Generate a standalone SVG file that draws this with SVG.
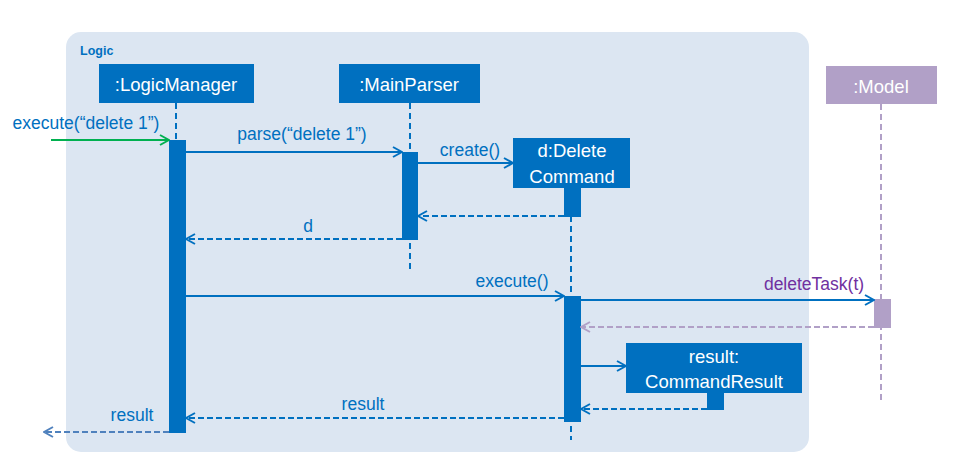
<svg xmlns="http://www.w3.org/2000/svg" width="953" height="476" viewBox="0 0 953 476">
<style>
.box{fill:#0070C0}
.boxt{fill:#fff;font-family:"Liberation Sans",Arial,sans-serif;font-size:18.5px;text-anchor:middle}
.lbl{fill:#0070C0;font-family:"Liberation Sans",Arial,sans-serif;font-size:17.5px;text-anchor:middle}
.life{stroke:#0070C0;stroke-width:2;stroke-dasharray:6,4;fill:none}
.msg{stroke:#0070C0;stroke-width:2;fill:none;marker-end:url(#ab)}
.ret{stroke:#0070C0;stroke-width:2;stroke-dasharray:6,3;fill:none;marker-end:url(#ab)}
</style>
<defs>
<marker id="ab" markerUnits="userSpaceOnUse" viewBox="0 0 12 12" refX="11" refY="6" markerWidth="12" markerHeight="12" orient="auto"><path d="M2,1 L11,6 L2,11" fill="none" stroke="#0070C0" stroke-width="2"/></marker>
<marker id="ag" markerUnits="userSpaceOnUse" viewBox="0 0 12 12" refX="11" refY="6" markerWidth="12" markerHeight="12" orient="auto"><path d="M2,1 L11,6 L2,11" fill="none" stroke="#00B050" stroke-width="2"/></marker>
<marker id="ap" markerUnits="userSpaceOnUse" viewBox="0 0 12 12" refX="11" refY="6" markerWidth="12" markerHeight="12" orient="auto"><path d="M2,1 L11,6 L2,11" fill="none" stroke="#B1A0C7" stroke-width="2"/></marker>
<marker id="al" markerUnits="userSpaceOnUse" viewBox="0 0 12 12" refX="11" refY="6" markerWidth="12" markerHeight="12" orient="auto"><path d="M2,1 L11,6 L2,11" fill="none" stroke="#4F81BD" stroke-width="2"/></marker>
</defs>
<rect width="953" height="476" fill="#fff"/>
<g id="logic-frame">
<rect x="66" y="32" width="743" height="420" rx="15" ry="15" fill="#DCE6F2"/>
<text x="80" y="55" font-family="Liberation Sans,Arial,sans-serif" font-size="12.5" font-weight="bold" fill="#0070C0">Logic</text>
</g>
<g id="lifelines">
<line class="life" x1="176" y1="103" x2="176" y2="140"/>
<line class="life" x1="410" y1="103" x2="410" y2="270"/>
<line class="life" x1="571" y1="216" x2="571" y2="440"/>
<line x1="881" y1="104" x2="881" y2="400" stroke="#B1A0C7" stroke-width="2" stroke-dasharray="6,4"/>
</g>
<g id="LogicManager">
<rect class="box" x="99" y="64" width="155" height="39"/>
<text class="boxt" x="176" y="91">:LogicManager</text>
<rect class="box" x="169" y="140" width="17" height="293"/>
</g>
<g id="MainParser">
<rect class="box" x="339" y="64" width="141" height="39"/>
<text class="boxt" x="409" y="91">:MainParser</text>
<rect class="box" x="402" y="152" width="16" height="88"/>
</g>
<g id="DeleteCommand">
<rect class="box" x="513" y="138" width="117" height="50"/>
<text class="boxt" x="572" y="157">d:Delete</text>
<text class="boxt" x="572" y="183">Command</text>
<rect class="box" x="564" y="188" width="17" height="29"/>
<rect class="box" x="564" y="296" width="17" height="126"/>
</g>
<g id="Model">
<rect x="826" y="66" width="111" height="38" fill="#B1A0C7"/>
<text class="boxt" x="881" y="93">:Model</text>
<rect x="874" y="299" width="17" height="29" fill="#B1A0C7"/>
</g>
<g id="CommandResult">
<rect class="box" x="626" y="343" width="176" height="50"/>
<text class="boxt" x="714" y="363">result:</text>
<text class="boxt" x="714" y="388">CommandResult</text>
<rect class="box" x="707" y="393" width="17" height="17"/>
</g>
<g id="connectors">
<line x1="51" y1="140" x2="169" y2="140" stroke="#00B050" stroke-width="2" marker-end="url(#ag)"/>
<text class="lbl" x="86" y="129">execute(“delete 1”)</text>
<line class="msg" x1="186" y1="152" x2="402" y2="152"/>
<text class="lbl" x="302" y="140">parse(“delete 1”)</text>
<line class="msg" x1="418" y1="163" x2="513" y2="163"/>
<text class="lbl" x="470" y="156">create()</text>
<line class="ret" x1="564" y1="216" x2="418" y2="216"/>
<line class="ret" x1="402" y1="239" x2="186" y2="239"/>
<text class="lbl" x="308" y="232">d</text>
<line class="msg" x1="186" y1="296" x2="564" y2="296"/>
<text class="lbl" x="512" y="287">execute()</text>
<line class="msg" x1="581" y1="300" x2="874" y2="300"/>
<text class="lbl" x="814" y="290" style="fill:#7030A0">deleteTask(t)</text>
<line x1="874" y1="327" x2="581" y2="327" stroke="#B1A0C7" stroke-width="2" stroke-dasharray="6,3" marker-end="url(#ap)"/>
<line class="msg" x1="581" y1="366" x2="626" y2="366"/>
<line class="ret" x1="707" y1="409" x2="581" y2="409"/>
<line class="ret" x1="564" y1="418" x2="186" y2="418"/>
<text class="lbl" x="363" y="410">result</text>
<line x1="169" y1="432" x2="44" y2="432" stroke="#4F81BD" stroke-width="2" stroke-dasharray="6,3" marker-end="url(#al)"/>
<text class="lbl" x="132" y="421">result</text>
</g>
</svg>
